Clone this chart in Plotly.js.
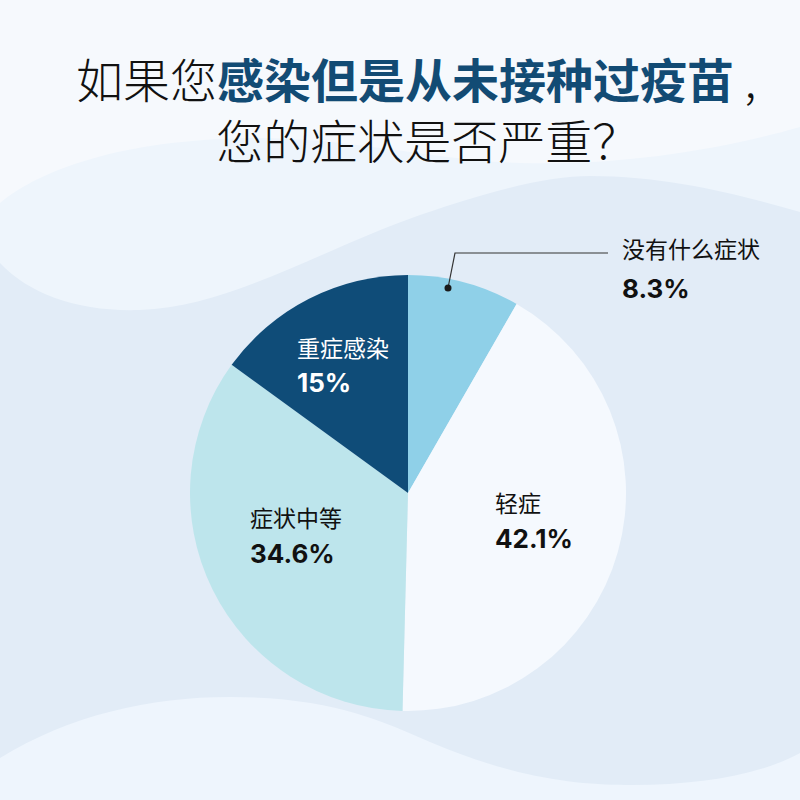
<!DOCTYPE html>
<html><head><meta charset="utf-8">
<script src="https://cdn.plot.ly/plotly-3.0.1.min.js"></script>
<style>html,body{margin:0;padding:0;background:#e2ecf7}</style>
</head><body><div id="chart" style="width:800px;height:800px"></div>
<script>
// ---- data ----
const categories = ['没有什么症状', '轻症', '症状中等', '重症感染'];
const percentages = [8.3, 42.1, 34.6, 15];
const sliceColors = ['#8fd0e8', '#f5f9fe', '#bde5ec', '#0f4c78'];
const labelColors = ['#111111', '#111111', '#111111', '#ffffff'];
const titleLine1Plain = '如果您';
const titleLine1Bold = '感染但是从未接种过疫苗';
const titleLine1End = ' ,';
const titleLine2 = '您的症状是否严重？';

// ---- layout helpers (pixel -> paper) ----
const W = 800, H = 800;
const px = x => x / W;
const py = y => 1 - y / H;
const toPaper = s => s.replace(/(-?\d+\.?\d*),(-?\d+\.?\d*)/g,
  (m, a, b) => px(+a).toFixed(5) + ',' + py(+b).toFixed(5));

// label anchor positions (left edge, label line centre) in pixels
const labelPos = [[620, 248], [493, 502], [248, 517], [295, 347]];
const pctGap = [40, 36, 36, 35];

const cjk = '"Noto Sans CJK SC", "Noto Sans", sans-serif';
const num = 'Inter, Roboto, "Noto Sans CJK SC", sans-serif';

const annotations = [];
categories.forEach((c, i) => {
  const [lx, ly] = labelPos[i];
  annotations.push({
    xref: 'paper', yref: 'paper', x: px(lx), y: py(ly), xanchor: 'left', yanchor: 'middle',
    text: c, showarrow: false, font: {family: cjk, size: 23, color: labelColors[i]}
  });
  annotations.push({
    xref: 'paper', yref: 'paper', x: px(lx), y: py(ly + pctGap[i]), xanchor: 'left', yanchor: 'middle',
    text: '<b>' + percentages[i] + '%</b>', showarrow: false,
    font: {family: num, size: 26, color: labelColors[i]}
  });
});
annotations.push({
  xref: 'paper', yref: 'paper', x: px(416), y: py(107.5), xanchor: 'center', yanchor: 'middle',
  align: 'center',
  text: titleLine1Plain + '<b><span style="color:#124b74">' + titleLine1Bold + '</span></b>' + titleLine1End +
        '<br>\u2002' + titleLine2,
  showarrow: false, font: {family: cjk, size: 47, color: '#111111', weight: 300}
});

const shapes = [
  {type: 'path', xref: 'paper', yref: 'paper', layer: 'below', line: {width: 0}, fillcolor: '#eef5fc',
   path: toPaper('M0,0 L800,0 L800,212 C740,195 670,176 590,176 C550,176 500,188 420,215 C320,250 230,307 140,310 C80,312 30,295 0,263 Z')},
  {type: 'path', xref: 'paper', yref: 'paper', layer: 'below', line: {width: 0}, fillcolor: '#f6f9fd',
   path: toPaper('M0,0 L800,0 L800,127 C720,150 620,166 520,163 C430,160 350,137 250,138 C120,140 40,170 0,203 Z')},
  {type: 'path', xref: 'paper', yref: 'paper', layer: 'below', line: {width: 0}, fillcolor: '#eef5fd',
   path: toPaper('M0,758 C70,715 150,697 230,697 C330,697 380,720 430,742 C520,780 580,785 633,785 C700,785 760,775 800,753 L800,800 L0,800 Z')},
  {type: 'path', xref: 'paper', yref: 'paper', layer: 'above', line: {width: 1.2, color: '#333333'},
   path: toPaper('M448,288 L455,253 L608,253')},
  {type: 'circle', xref: 'paper', yref: 'paper', layer: 'above', line: {width: 0}, fillcolor: '#1a1a1a',
   x0: px(444.5), x1: px(451.5), y0: py(291.5), y1: py(284.5)}
];

const trace = {
  type: 'pie', values: percentages, labels: categories, sort: false,
  direction: 'clockwise', rotation: 0, textinfo: 'none', hoverinfo: 'skip',
  marker: {colors: sliceColors, line: {width: 0}},
  domain: {x: [px(190), px(626)], y: [py(711), py(275)]},
  showlegend: false
};

Plotly.newPlot('chart', [trace], {
  width: W, height: H, margin: {l: 0, r: 0, t: 0, b: 0},
  paper_bgcolor: '#e2ecf7', plot_bgcolor: '#e2ecf7',
  showlegend: false, annotations: annotations, shapes: shapes
}, {displayModeBar: false, staticPlot: true});
</script></body></html>
